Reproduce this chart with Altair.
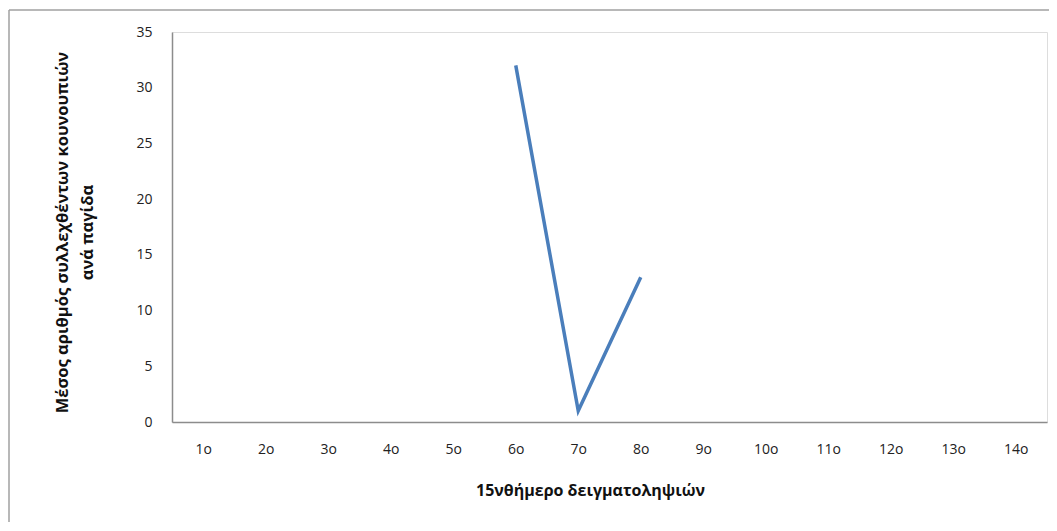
import altair as alt
import pandas as pd

categories = ["1ο", "2ο", "3ο", "4ο", "5ο", "6ο", "7ο", "8ο", "9ο", "10ο", "11ο", "12ο", "13ο", "14ο"]
values = [None, None, None, None, None, 32, 1, 13, None, None, None, None, None, None]
y_ticks = [0, 5, 10, 15, 20, 25, 30, 35]

df = pd.DataFrame({"cat": categories, "val": values})

FONT = "Open Sans"
W, H = 875, 390

x_enc = alt.X(
    "cat:N",
    sort=categories,
    scale=alt.Scale(type="point", padding=0.5),
    axis=alt.Axis(
        title="15νθήμερο δειγματοληψιών",
        labelAngle=0,
        ticks=False,
        labelPadding=20,
        labelFontSize=14,
        labelColor="#222222",
        labelFont=FONT,
        titleFont=FONT,
        titleFontSize=16,
        titleFontWeight="bold",
        titleColor="#111111",
        titlePadding=26,
        titleX=418,
        domainColor="#8c8c8c",
        domainWidth=1.5,
        grid=False,
    ),
)

y_enc = alt.Y(
    "val:Q",
    scale=alt.Scale(domain=[0, 35], nice=False),
    axis=alt.Axis(
        title=["Μέσος αριθμός συλλεχθέντων κουνουπιών", "ανά παγίδα"],
        values=y_ticks,
        ticks=False,
        labelPadding=20,
        labelFontSize=14,
        labelColor="#222222",
        labelFont=FONT,
        titleFont=FONT,
        titleFontSize=16.5,
        titleFontWeight="bold",
        titleColor="#111111",
        titlePadding=40,
        titleLineHeight=25,
        titleY=200,
        domainColor="#8c8c8c",
        domainWidth=1.5,
        grid=False,
    ),
)

line = alt.Chart(df).mark_line(color="#4A7EBB", strokeWidth=3.5).encode(
    x=x_enc, y=y_enc
)

border_top = alt.Chart(pd.DataFrame({"a": [0]})).mark_rule(color="#a0a0a0", strokeWidth=1.5).encode(
    x=alt.value(-163), x2=alt.value(W + 4), y=alt.value(-22)
)
border_left = alt.Chart(pd.DataFrame({"a": [0]})).mark_rule(color="#a0a0a0", strokeWidth=1.5).encode(
    x=alt.value(-163), y=alt.value(-22), y2=alt.value(H + 110)
)

chart = (
    alt.layer(line, border_top, border_left)
    .properties(
        width=W,
        height=H,
        autosize=alt.AutoSizeParams(type="none"),
        padding={"left": 164, "top": 24, "right": 2, "bottom": 100},
    )
    .configure_view(stroke=None)
    .configure(background="white")
)

chart.save("out.html", embed_options={"renderer": "svg", "actions": False})
